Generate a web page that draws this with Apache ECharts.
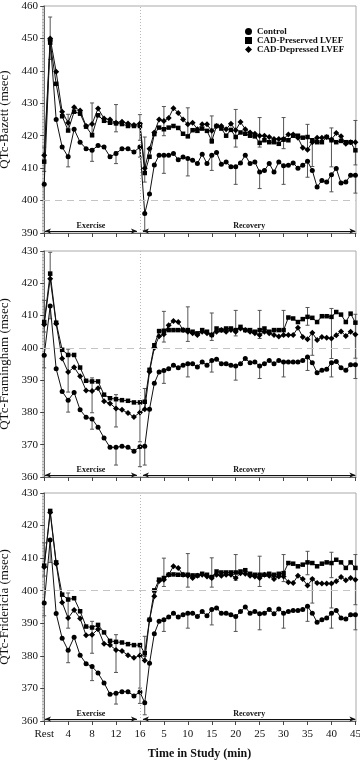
<!DOCTYPE html>
<html>
<head>
<meta charset="utf-8">
<script src="https://cdn.jsdelivr.net/npm/echarts@6/dist/echarts.min.js"></script>
<style>html,body{margin:0;padding:0;background:#fff}#chart{width:360px;height:760px}</style>
</head>
<body>
<div id="chart"></div>
<script>
// ---- time points ----
const exerciseMinutes = [0,1,2,3,4,5,6,7,8,9,10,11,12,13,14,15,16];
const recoveryMinutes = [1,2,3,4,5,6,7,8,9,10,11,12,13,14,15,16,17,18,19,20,21,22,23,24,25,26,27,28,29,30,31,32,33,34,35,36,37,38,39,40,41,42,43,44,45];
const tickPositions = [0,4,8,12,16,20,24,28,32,36,40,44,48,52];
const tickLabels = ['Rest','4','8','12','16','5','10','15','20','25','30','35','40','45'];
const seriesNames = ['Control','CAD-Preserved LVEF','CAD-Depressed LVEF'];
const panelTitles = ['QTc-Bazett (msec)','QTc-Framingham (msec)','QTc-Fridericia (msec)'];
const yRanges = [[390,460],[360,430],[360,430]];
const phaseLabels = ['Exercise','Recovery'];

// ---- QTc-Bazett ----
const bazettControlExercise   = [405,449.5,425,416.5,413.5,422,418,416,415.5,417,416.5,413.5,414.5,416,416,415,416.5];
const bazettPreservedExercise = [412,448.7,436,426,421.6,427.4,426.8,422.8,420.2,426.3,424.6,424,423.8,423.6,423,423,423];
const bazettDepressedExercise = [414,450,439.7,427.4,424,428.8,427.8,423,423.6,428.4,425.3,425,424,424.3,423.8,423.3,423.8];
const bazettControlRecovery   = [396,402,411,414,414,414,414.5,412.6,413.4,413,412.4,411.4,414.3,411.4,414,414.8,411.2,411.9,410.4,410.4,411.6,414,411.4,411.9,408.8,409.3,411.4,408.8,411.9,410.7,410.9,411.6,410,410.9,412.1,409.3,404.2,406.2,405.7,408,409.9,405.4,405.7,407.8,407.8];
const bazettPreservedRecovery = [408.5,413.5,420.5,422.5,422,422.5,423,422.4,420.6,419.8,421.7,421.5,422.2,421.5,418.4,423,422.2,420,421.8,419.6,421,420.6,420,419.8,417.8,418.6,418,418,417.5,418.8,418.6,420,420,419.4,419.6,418.6,418,418,419.6,418.6,418,418.4,418,418,415.5];
const bazettDepressedRecovery = [410,416,421,425,424.5,425.5,428.5,427,425,423.5,424,422,423.5,423.5,421.5,423,423,422,423.7,421.7,424.2,422,421,420.6,420,420,419.6,419,419,419,420.4,420.4,419.4,416.3,415.7,418,419.4,419.4,419.6,418.8,420.8,419.8,417.5,418,418];
// error bars: [phase, minute, low, high]
const bazettErrorBars = [
  ['E',0,409,416.5],['E',0,400,405],['E',1,443.5,456.6],
  ['E',4,421.5,426.6],['E',4,410.4,414],['E',8,419.6,430.1],['E',8,412.1,416],
  ['E',12,421.2,429.6],['E',12,411.4,415],['E',16,418.6,426.5],['E',16,413.4,417],
  ['R',1,405.7,419.6],['R',1,390.8,396],['R',5,420,429],['R',5,408.4,414],
  ['R',10,419.6,428.6],['R',10,407.6,413],['R',15,417.6,426.1],['R',15,409.3,414],
  ['R',20,416.5,428.1],['R',20,405,410.4],['R',25,416.5,425.6],['R',25,403.7,408.8],
  ['R',30,416,425.6],['R',30,405,410.7],['R',35,416,423.5],['R',35,407.2,412.1],
  ['R',36,410.5,418],['R',40,410.4,422.4],['R',40,402.7,408],['R',45,411,424.7],['R',45,402.3,407.8]
];

// ---- QTc-Framingham ----
const framControlExercise   = [397.7,413,393.5,386.5,383.8,386.2,380.8,378.5,378,375.4,372.1,369.2,369.2,369.5,369.2,368,369.4];
const framPreservedExercise = [408,423,407.8,399.4,397.8,397.8,393.9,389.8,389.6,389.6,385.5,384.4,384.1,383.8,383.6,383.1,383.1];
const framDepressedExercise = [407.2,421.4,407.5,396.7,392.5,394,391.2,386.8,386.6,387.5,383.5,382.8,381.2,380.8,379.8,378.6,380];
const framControlRecovery   = [369.5,381,389,392.5,393,393.5,394.6,393.8,394.6,395.1,395.1,394.1,395.6,394.6,396.1,396.5,395.1,395.1,394.6,394.4,395.1,396.7,395.4,395.6,394.4,395.1,396.1,395.1,396.1,395.6,395.6,395.6,395.6,396.1,397.2,395.4,392.3,393.1,393.4,395.4,395.8,393.8,393.1,394.8,394.8];
const framPreservedRecovery = [383.3,393.2,400.8,405.2,405.3,405.5,405.5,405.5,405.5,405.5,405,404.5,405.5,405,404,406,405.5,406,406,405.5,406.5,405.5,405.5,405,405.5,406,405,405.5,405.5,405.5,409.4,409.1,408,408.9,409.6,409.3,408,409.8,409.8,409.6,411.1,410.3,408,410.6,407.8];
const framDepressedRecovery = [381,392.6,400,403.6,404.2,407,408.3,408,405.5,405,404.5,404,405,404.5,404,405,405.5,405,405.5,405,406,405.5,405,404.5,404,405,404.5,404,403.5,404,404,404,406.2,403.4,402.7,404.7,402.4,403.4,403.1,402.9,403.9,405.1,403.7,405,404.1];
const framErrorBars = [
  ['E',0,404.9,414.7],['E',0,393.8,397.7],['E',1,422.5,429.6],['E',1,409,413],
  ['E',4,386.3,399.6],['E',4,380.1,383.8],['E',8,379.9,390.7],['E',8,374.8,378],
  ['E',12,375.5,385.5],['E',12,363.7,369.2],['E',16,370.9,383],['E',16,363.2,369.4],
  ['R',1,381,387.4],['R',1,363.7,369.5],['R',5,401.8,411.3],['R',5,389,393],
  ['R',10,402,412.7],['R',10,391,395.1],['R',15,402.3,410.8],['R',15,392.5,396.1],
  ['R',20,403.7,411.6],['R',20,390,394.4],['R',25,402.9,411.6],['R',25,390.5,394.4],
  ['R',30,403.7,411.6],['R',30,391,395.6],['R',35,407,412.5],['R',35,393,397.2],
  ['R',36,397.7,404.7],['R',40,396.7,412.2],['R',40,391,395.4],['R',45,396.8,410.4],['R',45,390.5,394.8]
];

// ---- QTc-Fridericia ----
const fridControlExercise   = [396.2,415.6,393,385.4,381.7,385.7,380.2,377.6,376.7,374.7,371.7,368.2,368.5,369,369,367.7,368.9];
const fridPreservedExercise = [407.7,424.5,408.7,398.8,397.3,397.7,393.7,389,388.7,389.5,387.2,384.6,384.3,384.1,383.6,383.3,383.3];
const fridDepressedExercise = [407.3,424,408.3,396.4,391.6,394.1,391.5,386.3,386.5,388.2,383.7,383.3,381.8,381.5,380.2,379.4,380.1];
const fridControlRecovery   = [365.6,377.7,386.8,390.6,391.1,391.9,393.1,391.9,392.6,393.1,393.1,392.1,393.6,392.3,394.2,394.7,393.1,393.1,392.6,392.1,393.6,395,393.1,393.6,392.9,393.1,394.2,392.9,394.4,393.1,393.6,393.9,393.9,394.2,395.2,393.1,390.3,391.1,391.6,393.1,393.9,391.6,391.3,392.6,392.6];
const fridPreservedRecovery = [380.8,391.1,400.1,403.4,403.9,404.9,405,404.9,404.9,404.9,404.7,404.7,405.2,404.9,404.2,405.9,405.6,405.6,405.6,405.6,405.9,406.3,405.2,404.9,404.9,404.9,405.2,404.9,405.2,405.4,408.5,408.3,407.5,408,408.7,408.5,407.5,408.3,408.7,408.5,409.5,408.7,407,408.7,407];
const fridDepressedRecovery = [378.6,391,398.3,403,403.4,404.9,407.5,407,404.9,404.6,403.9,404.6,404.9,404.4,403.9,404.9,404.6,404.9,404.9,403.9,405.4,405.2,404.6,404.4,403.9,404.9,404.6,403.6,404.4,404.4,402.6,402.4,404.6,403.6,401.6,403.6,402.4,402.2,402.2,402.2,402.9,404.2,403.2,403.9,403.4];
const fridErrorBars = [
  ['E',0,404.5,414.7],['E',0,392.3,396.2],['E',1,408.7,415.6],
  ['E',4,388.5,399.3],['E',4,377.9,381.7],['E',8,380.8,390.6],['E',8,372.4,376.7],
  ['E',12,374.9,386.5],['E',12,365.2,368.5],['E',16,370.1,383.1],['E',16,365.4,368.9],
  ['R',1,379.8,386],['R',1,361.9,365.6],['R',5,401.3,410],['R',5,387.5,391.1],
  ['R',10,401.1,411.4],['R',10,388.5,393.1],['R',15,401.1,410.1],['R',15,389.5,394.2],
  ['R',20,403.2,411.1],['R',20,387.5,392.1],['R',25,401.3,410.6],['R',25,388,392.9],
  ['R',30,402.8,411.1],['R',30,388.5,393.1],['R',35,404.9,412.1],['R',35,390.6,395.2],
  ['R',36,396.2,403.9],['R',40,404,411.8],['R',40,394.7,402],['R',40,388.5,393.1],
  ['R',45,395.7,411.1],['R',45,388,392.6]
];

// ---- layout / style ----
const SERIF = '"Liberation Serif","DejaVu Serif",serif';
const grids = [
  {left:43, width:313, top:6, height:227},
  {left:43, width:313, top:251, height:226},
  {left:43, width:313, top:493, height:228}
];
const symbols = ['circle','rect','diamond'];
const symbolSizes = [5,4.5,6];

// broken time axis: exercise 1 unit/min, recovery 0.8 unit/min after minute 16
const EX_END = 16, REC_SCALE = 0.8;
function xPos(phase, minute){ return phase === 'E' ? minute : EX_END + REC_SCALE*minute; }
function buildSeries(ex, rec){
  const out = [];
  exerciseMinutes.forEach((m,i)=>out.push([xPos('E',m), ex[i]]));
  recoveryMinutes.forEach((m,i)=>out.push([xPos('R',m), rec[i]]));
  return out;
}
const panels = [
  {data:[[bazettControlExercise,bazettControlRecovery],[bazettPreservedExercise,bazettPreservedRecovery],[bazettDepressedExercise,bazettDepressedRecovery]], err:bazettErrorBars},
  {data:[[framControlExercise,framControlRecovery],[framPreservedExercise,framPreservedRecovery],[framDepressedExercise,framDepressedRecovery]], err:framErrorBars},
  {data:[[fridControlExercise,fridControlRecovery],[fridPreservedExercise,fridPreservedRecovery],[fridDepressedExercise,fridDepressedRecovery]], err:fridErrorBars}
];

function renderErr(params, api){
  const x = api.value(0), lo = api.value(1), hi = api.value(2);
  const a = api.coord([x, lo]), b = api.coord([x, hi]);
  const w = 2, st = {stroke:'#555', lineWidth:1};
  return {type:'group', children:[
    {type:'line', shape:{x1:a[0],y1:a[1],x2:b[0],y2:b[1]}, style:st},
    {type:'line', shape:{x1:a[0]-w,y1:a[1],x2:a[0]+w,y2:a[1]}, style:st},
    {type:'line', shape:{x1:b[0]-w,y1:b[1],x2:b[0]+w,y2:b[1]}, style:st}
  ]};
}

const xAxes = [], yAxes = [], series = [];
panels.forEach((p, k)=>{
  const isBottom = k === 2;
  xAxes.push({
    type:'value', gridIndex:k, min:-0.2, max:52.1,
    axisLine:{show:true, lineStyle:{color:'#666'}},
    axisTick:{show:true, customValues:tickPositions, length:4, lineStyle:{color:'#444'}},
    axisLabel:{show:isBottom, customValues:tickPositions, margin:8,
      formatter:(v)=>{const i = tickPositions.indexOf(Math.round(v)); return i>=0 ? tickLabels[i] : '';},
      fontFamily:SERIF, fontSize:11, color:'#111'},
    splitLine:{show:false},
    name: isBottom ? 'Time in Study (min)' : '',
    nameLocation:'middle', nameGap:27,
    nameTextStyle:{fontFamily:SERIF, fontSize:12, fontWeight:'bold', color:'#111'}
  });
  yAxes.push({
    type:'value', gridIndex:k, min:yRanges[k][0], max:yRanges[k][1], interval:10,
    axisLine:{show:true, lineStyle:{color:'#666'}},
    axisTick:{show:true, length:4, lineStyle:{color:'#444'}},
    minorTick:{show:true, splitNumber:10, length:2, lineStyle:{color:'#aaa'}},
    axisLabel:{fontFamily:SERIF, fontSize:11, color:'#111', margin:5},
    splitLine:{show:false},
    name:panelTitles[k], nameLocation:'middle', nameGap:22,
    nameTextStyle:{fontFamily:SERIF, fontSize:13, color:'#111'}
  });
  const arrowY = yRanges[k][0] + 0.6;
  const lblStyle = {show:true, position:'insideMiddleTop', distance:1, fontFamily:SERIF, fontSize:8, fontWeight:'bold', color:'#111'};
  p.data.forEach((pair, s)=>{
    const ser = {
      type:'line', name:seriesNames[s], xAxisIndex:k, yAxisIndex:k,
      data:buildSeries(pair[0], pair[1]),
      symbol:symbols[s], symbolSize:symbolSizes[s], showSymbol:true,
      itemStyle:{color:'#000'}, lineStyle:{color:'#111', width:1},
      z:3
    };
    if (s === 0){
      ser.markLine = {
        silent:true, symbol:['none','none'], label:{show:false},
        data:[
          {yAxis:400, lineStyle:{type:[7,5], color:'#c4c4c4', width:1}},
          {xAxis:EX_END, lineStyle:{type:[1,2], color:'#b8b8b8', width:1}},
          [{coord:[0.13, arrowY], symbol:'arrow', symbolSize:[4,6], lineStyle:{type:'solid', color:'#111', width:1}, label:Object.assign({formatter:phaseLabels[0]}, lblStyle)},
           {coord:[15.5, arrowY], symbol:'arrow', symbolSize:[4,6]}],
          [{coord:[16.5, arrowY], symbol:'arrow', symbolSize:[4,6], lineStyle:{type:'solid', color:'#111', width:1}, label:Object.assign({formatter:phaseLabels[1]}, lblStyle)},
           {coord:[52, arrowY], symbol:'arrow', symbolSize:[4,6]}]
        ]
      };
    }
    series.push(ser);
  });
  series.push({
    type:'custom', xAxisIndex:k, yAxisIndex:k, renderItem:renderErr, silent:true, z:2,
    encode:{x:0, y:[1,2]},
    data:p.err.map(e=>[xPos(e[0], e[1]), e[2], e[3]])
  });
});

const chart = echarts.init(document.getElementById('chart'), null, {renderer:'canvas'});
chart.setOption({
  animation:false,
  backgroundColor:'#fff',
  grid:grids.map(g=>Object.assign({show:true, borderColor:'#aaa', borderWidth:1, backgroundColor:'transparent', containLabel:false, outerBoundsMode:'none'}, g)),
  xAxis:xAxes, yAxis:yAxes,
  legend:{
    orient:'vertical', left:240, top:22, itemGap:0, itemWidth:7, itemHeight:7,
    data:[{name:seriesNames[0], icon:'circle'},{name:seriesNames[1], icon:'rect'},{name:seriesNames[2], icon:'diamond'}],
    textStyle:{fontFamily:SERIF, fontSize:9, fontWeight:'bold', color:'#111', lineHeight:8},
    itemStyle:{color:'#000'}, lineStyle:{show:false}
  },
  series:series
});
</script>
</body>
</html>
